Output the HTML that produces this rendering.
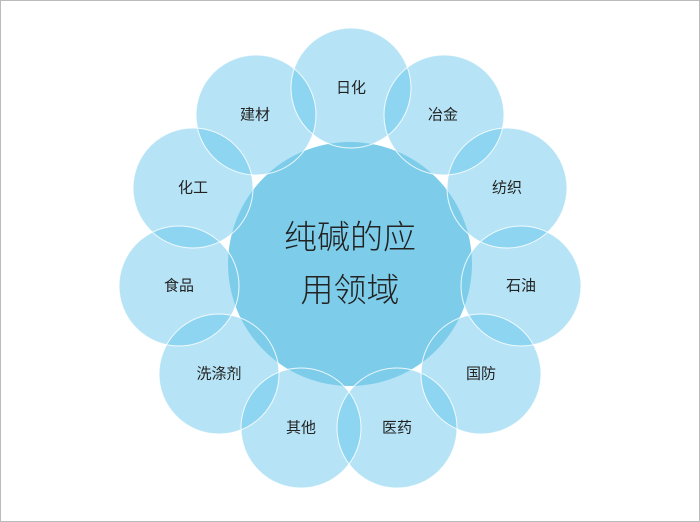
<!DOCTYPE html>
<html><head><meta charset="utf-8"><style>
html,body{margin:0;padding:0;background:#fff}
svg{display:block}
text{font-family:"Liberation Sans","Noto Sans CJK SC",sans-serif;fill:#222;text-anchor:middle;dominant-baseline:central}
</style></head><body>
<svg width="700" height="522" viewBox="0 0 700 522">
<defs>
<g id="cs">
<circle cx="351" cy="88" r="60"/>
<circle cx="444" cy="115" r="60"/>
<circle cx="507" cy="188" r="60"/>
<circle cx="521" cy="286" r="60"/>
<circle cx="481" cy="374" r="60"/>
<circle cx="397" cy="428" r="60"/>
<circle cx="301" cy="428" r="60"/>
<circle cx="219" cy="374" r="60"/>
<circle cx="179" cy="286" r="60"/>
<circle cx="193" cy="188" r="60"/>
<circle cx="256" cy="115" r="60"/>
</g>
</defs>
<rect x="0.5" y="0.5" width="699" height="521" fill="#fff" stroke="#bbb"/>
<g fill="#5ec3ec" fill-opacity="0.45" stroke="none"><use href="#cs"/></g>
<circle cx="350" cy="264" r="122" fill="#7dcdea"/>
<g fill="none" stroke="#fff" stroke-width="1" stroke-opacity="0.85"><use href="#cs"/></g>
<g font-size="15">
<text x="351" y="88">日化</text>
<text x="443" y="115">冶金</text>
<text x="507" y="188">纺织</text>
<text x="521" y="286">石油</text>
<text x="481" y="374">国防</text>
<text x="397" y="428">医药</text>
<text x="301" y="428">其他</text>
<text x="219" y="374">洗涤剂</text>
<text x="179" y="286">食品</text>
<text x="193" y="188">化工</text>
<text x="255" y="115">建材</text>
</g>
<g font-size="33" style="font-weight:300;font-family:'Noto Sans CJK SC',sans-serif">
<text x="350" y="237">纯碱的应</text>
<text x="350" y="290">用领域</text>
</g>
</svg>
</body></html>
